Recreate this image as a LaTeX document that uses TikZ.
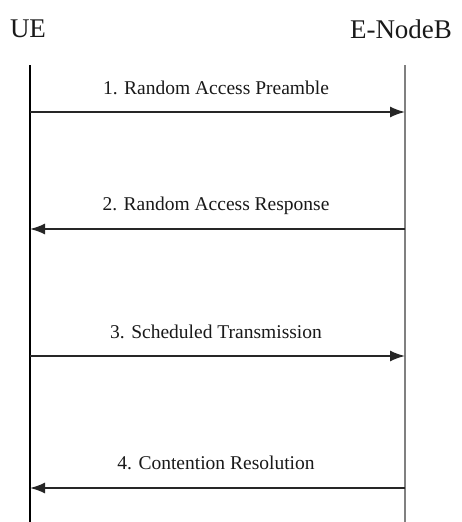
\documentclass[tikz,border=0pt]{standalone}
\usepackage{fontspec}
\setmainfont{Liberation Serif}
\usepackage{tikz}
\usetikzlibrary{arrows.meta}
\usetikzlibrary{positioning}
\tikzstyle{every node}+=[inner sep=0pt]
\tikzstyle{entity} = [font=\fontsize{27}{30}\selectfont, text=black!90]
\tikzstyle{lifeline} = [draw, line width=1.6pt]
\tikzstyle{line} = [draw, line width=1.6pt, black!85, -{Latex[length=15pt, width=11pt]}]
\tikzstyle{msg} = [font=\fontsize{19.5}{22}\selectfont, text=black!90]

\begin{document}
\begin{tikzpicture}[x=1pt, y=-1pt]
            \useasboundingbox (0,0) rectangle (462,522);
            % Place nodes
            \node [entity] (ue) at (28,29) {UE};
            \node [entity] (enb) at (401,29) {E-NodeB};
            \coordinate (uetop) at (30,65);
            \coordinate (enbtop) at (405,65);
            \coordinate (uebot) at (30,522);
            \coordinate (enbbot) at (405,522);
            \coordinate (ue1) at (30,112);
            \coordinate (enb1) at (405,112);
            \coordinate (ue2) at (30,229);
            \coordinate (enb2) at (405,229);
            \coordinate (ue3) at (30,356);
            \coordinate (enb3) at (405,356);
            \coordinate (ue4) at (30,488);
            \coordinate (enb4) at (405,488);
            \node [msg] (m1) at (216,88) {1. Random Access Preamble};
            \node [msg] (m2) at (216,206) {2. Random Access Response};
            \node [msg] (m3) at (216,332) {3. Scheduled Transmission};
            \node [msg] (m4) at (216,463) {4. Contention Resolution};
            % Draw lifelines
            \path [lifeline, black] (uetop) -- (uebot);
            \path [lifeline, black!50] (enbtop) -- (enbbot);
            % Draw edges
            \path [line] (ue1) -- (enb1);
            \path [line] (enb2) -- (ue2);
            \path [line] (ue3) -- (enb3);
            \path [line] (enb4) -- (ue4);
\end{tikzpicture}
\end{document}
